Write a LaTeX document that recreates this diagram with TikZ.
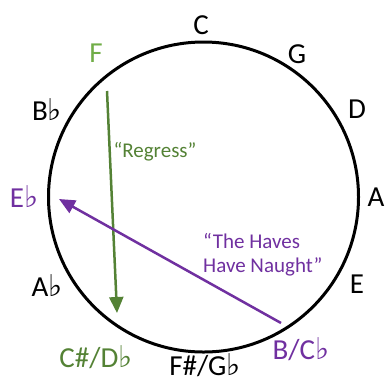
\documentclass[tikz,border=0pt]{standalone}
\usepackage{fontspec}
\setmainfont{Carlito}
\newfontfamily\symfont{DejaVu Sans}
\newcommand\flt{{\symfont\fontsize{30}{32}\selectfont ♭}}
\usetikzlibrary{arrows.meta}
\definecolor{lgreen}{HTML}{70AD47}
\definecolor{dgreen}{HTML}{548235}
\definecolor{mpurple}{HTML}{7030A0}
\tikzset{
  key/.style={font=\fontsize{29}{34}\selectfont, inner sep=0pt, anchor=center},
  quote/.style={font=\fontsize{21}{24}\selectfont, inner sep=0pt, align=left},
  move/.style={line width=2.5pt, -{Triangle[width=14pt,length=16pt]}}
}
\begin{document}
\begin{tikzpicture}[x=1pt,y=-1pt]
\useasboundingbox (0,0) rectangle (387,384);
\draw[line width=3pt] (203.5,197) circle (155);
\node[key] (C) at (201,25) {C};
\node[key] (G) at (297,54) {G};
\node[key] (D) at (357,109) {D};
\node[key] (A) at (376,197) {A};
\node[key] (E) at (357,284) {E};
\node[key,mpurple] (B) at (301,349) {B/C\flt};
\node[key] (Fs) at (205,365) {F\#/G\flt};
\node[key,dgreen] (Cs) at (96,357) {C\#/D\flt};
\node[key] (Ab) at (47,286) {A\flt};
\node[key,mpurple] (Eb) at (24,197) {E\flt};
\node[key] (Bb) at (47,110) {B\flt};
\node[key,lgreen] (F) at (96,53) {F};
\coordinate (gs) at (107,91);
\coordinate (ge) at (117,313);
\coordinate (ps) at (281,323);
\coordinate (pe) at (59,199);
\draw[move,dgreen] (gs) -- (ge);
\draw[move,mpurple] (ps) -- (pe);
\node[quote,dgreen] (reg) at (155,152) {“Regress”};
\node[quote,mpurple,anchor=west] (hav) at (203,255) {“The Haves\\Have Naught”};
\end{tikzpicture}
\end{document}
